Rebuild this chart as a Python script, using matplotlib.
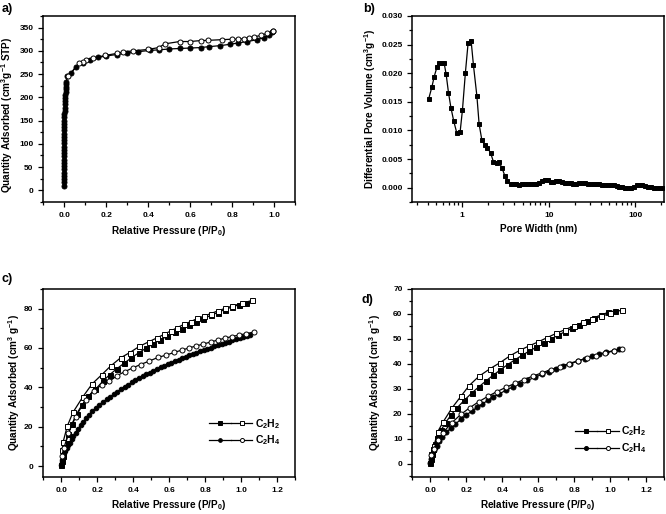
import numpy as np
import matplotlib
matplotlib.use("Agg")
from matplotlib import pyplot as plt
from matplotlib.ticker import MultipleLocator, FormatStrFormatter, LogLocator, NullFormatter
from matplotlib.legend_handler import HandlerTuple

plt.rcParams['font.family'] = ['Liberation Sans', 'DejaVu Sans']
plt.rcParams['font.weight'] = 'bold'
plt.rcParams['axes.labelweight'] = 'bold'
plt.rcParams['mathtext.fontset'] = 'custom'
plt.rcParams['mathtext.rm'] = 'Liberation Sans:bold'
plt.rcParams['mathtext.it'] = 'Liberation Sans:bold'
plt.rcParams['mathtext.bf'] = 'Liberation Sans:bold'

# ---- a) N2 isotherm ----
a_ads_p = [0.0, 0.0, 0.0, 0.0, 0.0, 0.0, 0.0, 0.0, 0.0, 0.0,
           0.0, 0.0, 0.0, 0.0, 0.0, 0.0, 0.0, 0.0, 0.0, 0.0,
           0.0005, 0.001, 0.001, 0.0015, 0.002, 0.0025, 0.003, 0.004, 0.005, 0.006,
           0.007, 0.008, 0.009, 0.010,
           0.013, 0.032, 0.056, 0.091, 0.123, 0.163, 0.2, 0.25, 0.3, 0.35,
           0.41, 0.45, 0.5, 0.55, 0.6, 0.65, 0.69, 0.74, 0.79, 0.83,
           0.873, 0.92, 0.95, 0.975, 0.99, 0.997]
a_ads_q = [10, 17, 24, 31, 38, 45, 52, 59, 66, 73,
           80, 87, 94, 101, 108, 115, 122, 129, 136, 143,
           150, 157, 164, 171, 178, 185, 192, 199, 206, 212,
           218, 223, 228, 232,
           246, 252, 266, 274, 281, 286, 289, 292, 295, 298,
           301, 302, 304, 305, 306, 307, 309, 311, 314, 317,
           320, 324, 328, 334, 340, 343]
a_des_p = [0.997, 0.968, 0.936, 0.905, 0.88, 0.855, 0.83, 0.8, 0.753, 0.684,
           0.65, 0.6, 0.55, 0.48, 0.45, 0.40, 0.33, 0.28, 0.25, 0.195,
           0.139, 0.104, 0.088, 0.072, 0.02]
a_des_q = [343, 338, 333, 330, 328, 326, 325, 325, 324, 322.5,
           322, 320, 320, 315, 307, 303, 300, 297.5, 294.5, 290,
           284.6, 281, 277, 274, 246]

# ---- b) pore size distribution ----
b_width = [0.41, 0.447, 0.475, 0.51, 0.547, 0.588, 0.62, 0.653, 0.695, 0.741,
           0.80, 0.869, 0.948, 1.008, 1.09, 1.17, 1.27, 1.35, 1.48, 1.57,
           1.69, 1.83, 1.96, 2.14, 2.30, 2.51, 2.69, 2.89, 3.11, 3.33, 3.65,
           3.9, 4.2, 4.5, 4.9, 5.3, 5.7, 6.2, 6.7, 7.2, 7.8,
           8.4, 9.0, 9.7, 10.5, 11.3, 12.2, 13.2, 14.2, 15.4, 16.6,
           17.9, 19.3, 20.9, 22.5, 24.3, 26.2, 28.3, 30.6, 33.0, 35.6,
           38.4, 41.5, 44.8, 48.3, 52.2, 56.3, 60.8, 65.6, 70.8, 76.4,
           82.5, 89.0, 96.1, 103.7, 112, 121, 130, 141, 152, 164,
           177, 191, 206]
b_vol = [0.0155, 0.0176, 0.0194, 0.0210, 0.0217, 0.0217, 0.0217, 0.0198, 0.0166, 0.0140,
         0.0116, 0.0095, 0.0098, 0.0136, 0.0201, 0.0252, 0.0256, 0.0214, 0.0160, 0.0111,
         0.0083, 0.0074, 0.0070, 0.0060, 0.0045, 0.0043, 0.0044, 0.0034, 0.0021, 0.0012, 0.0006,
         0.0006, 0.0006, 0.00055, 0.0006, 0.00065, 0.0007, 0.0007, 0.00065, 0.00065, 0.0008,
         0.0011, 0.0014, 0.0013, 0.0010, 0.0010, 0.0011, 0.0011, 0.0010, 0.0009, 0.0008,
         0.0008, 0.0007, 0.0007, 0.0008, 0.0009, 0.0009, 0.0007, 0.0006, 0.0006, 0.0006,
         0.0006, 0.0005, 0.0005, 0.0005, 0.0004, 0.0004, 0.0003, 0.0002, 0.0001, 0.0,
         -0.00005, 0.0, 0.0002, 0.0004, 0.0005, 0.0004, 0.0003, 0.0002, 0.0001, 0.0,
         -0.00005, -0.00005, -0.00005]

# ---- c) C2H2 / C2H4 isotherms, sample 1 ----
c_c2h2_ads_p = [0.0, 0.003, 0.008, 0.015, 0.025, 0.04, 0.06, 0.085, 0.115, 0.15,
                0.19, 0.23, 0.27, 0.31, 0.35, 0.39, 0.43, 0.47, 0.51, 0.55,
                0.59, 0.63, 0.67, 0.71, 0.75, 0.79, 0.83, 0.87, 0.91, 0.95,
                0.99, 1.03]
c_c2h2_ads_q = [0.5, 2.5, 5, 8.5, 12, 16.5, 21.5, 26.5, 31, 35.5,
                39, 43, 46.5, 49.5, 52.3, 55, 57.5, 59.8, 62, 64,
                66, 68, 69.8, 71.5, 73.2, 74.8, 76.5, 78, 79.5, 80.8,
                82, 83]
c_c2h2_des_p = [0.005, 0.01, 0.033, 0.065, 0.12, 0.172, 0.226, 0.274, 0.33, 0.38,
                0.434, 0.488, 0.534, 0.571, 0.608, 0.645, 0.682, 0.72, 0.757, 0.794,
                0.83, 0.87, 0.911, 0.951, 1.007, 1.063]
c_c2h2_des_q = [8, 12.2, 20.2, 27.3, 35.2, 41.8, 46.5, 50.8, 55.0, 57.6,
                60.8, 63.2, 65.2, 66.9, 68.6, 70.3, 72.0, 73.4, 75.0, 76.2,
                77.4, 78.8, 80.1, 81.3, 82.7, 84.2]
c_c2h4_ads_p = [0.0, 0.002, 0.005, 0.008, 0.012, 0.017, 0.023, 0.03, 0.038, 0.047,
                0.057, 0.068, 0.08, 0.093, 0.107, 0.122, 0.138, 0.155, 0.173, 0.192,
                0.212, 0.232, 0.252, 0.272, 0.292, 0.312, 0.332, 0.352, 0.372, 0.392,
                0.412, 0.432, 0.452, 0.472, 0.492, 0.512, 0.532, 0.552, 0.572, 0.592,
                0.612, 0.632, 0.652, 0.672, 0.692, 0.712, 0.732, 0.752, 0.772, 0.792,
                0.812, 0.832, 0.852, 0.872, 0.892, 0.912, 0.932, 0.952, 0.972, 0.992,
                1.012, 1.032, 1.052]
c_c2h4_ads_q = [0.5, 2, 3.2, 4.3, 5.4, 6.6, 7.9, 9.2, 10.5, 12,
                13.6, 15.3, 17, 18.8, 20.7, 22.5, 24.3, 26.2, 27.9, 29.6,
                31.2, 32.6, 33.9, 35.2, 36.5, 37.8, 39.1, 40.3, 41.4, 42.5,
                43.6, 44.6, 45.6, 46.6, 47.5, 48.4, 49.3, 50.2, 51.0, 51.8,
                52.6, 53.4, 54.1, 54.8, 55.5, 56.2, 56.9, 57.6, 58.3, 58.9,
                59.6, 60.2, 60.8, 61.4, 62.0, 62.6, 63.2, 63.8, 64.4, 65.0,
                65.6, 66.2, 66.8]
c_c2h4_des_p = [0.005, 0.015, 0.04, 0.08, 0.135, 0.18, 0.228, 0.268, 0.311, 0.352,
                0.398, 0.441, 0.488, 0.538, 0.584, 0.627, 0.67, 0.71, 0.75, 0.79,
                0.83, 0.87, 0.91, 0.95, 0.99, 1.03, 1.072]
c_c2h4_des_q = [5, 9.2, 17, 25, 33.8, 38.4, 41.4, 43.1, 46, 47.9,
                49.9, 51.6, 53.3, 55.2, 56.4, 57.7, 58.9, 60, 61, 62,
                63, 64, 65, 65.8, 66.6, 67.3, 68.1]

# ---- d) C2H2 / C2H4 isotherms, sample 2 ----
d_c2h2_ads_p = [0.0, 0.003, 0.008, 0.015, 0.025, 0.04, 0.06, 0.085, 0.115, 0.15,
                0.19, 0.23, 0.27, 0.31, 0.35, 0.39, 0.43, 0.47, 0.51, 0.55,
                0.59, 0.63, 0.67, 0.71, 0.75, 0.79, 0.83, 0.87, 0.91, 0.95,
                0.99, 1.03]
d_c2h2_ads_q = [0.3, 2, 4, 6, 8, 10.5, 13.5, 16.5, 19.5, 22.5,
                25.5, 28.3, 30.8, 33.2, 35.5, 37.6, 39.7, 41.6, 43.4, 45.1,
                46.7, 48.3, 49.9, 51.4, 52.9, 54.3, 55.7, 57.1, 58.4, 59.6,
                60.6, 61.3]
d_c2h2_des_p = [0.004, 0.02, 0.041, 0.07, 0.12, 0.17, 0.216, 0.27, 0.333, 0.388,
                0.445, 0.5, 0.55, 0.6, 0.65, 0.7, 0.75, 0.8, 0.85, 0.9,
                0.95, 1.0, 1.069]
d_c2h2_des_q = [3.9, 7, 12.8, 16.6, 22.3, 27, 31.3, 35, 38.1, 40.5,
                43.3, 45.5, 47.2, 48.8, 50.5, 52.2, 53.7, 55.2, 56.6, 57.9,
                59, 60.2, 61.6]
d_c2h4_ads_p = [0.0, 0.005, 0.012, 0.022, 0.035, 0.05, 0.068, 0.09, 0.115, 0.14,
                0.17, 0.2, 0.23, 0.26, 0.29, 0.32, 0.35, 0.38, 0.42, 0.46,
                0.5, 0.54, 0.58, 0.62, 0.66, 0.7, 0.74, 0.78, 0.82, 0.86,
                0.9, 0.94, 0.98, 1.02, 1.05]
d_c2h4_ads_q = [0.3, 2.0, 3.8, 5.5, 7.3, 9.0, 10.8, 12.6, 14.4, 16.0,
                17.8, 19.5, 21.1, 22.6, 24.0, 25.4, 26.7, 27.9, 29.4, 30.8,
                32.1, 33.4, 34.6, 35.8, 36.9, 38.0, 39.1, 40.1, 41.1, 42.1,
                43.0, 43.9, 44.7, 45.3, 45.8]
d_c2h4_des_p = [0.004, 0.02, 0.045, 0.07, 0.12, 0.17, 0.22, 0.27, 0.32, 0.37,
                0.42, 0.47, 0.52, 0.57, 0.62, 0.67, 0.72, 0.77, 0.82, 0.87,
                0.92, 0.97, 1.02, 1.069]
d_c2h4_des_q = [3.5, 6, 9.5, 12.5, 16.5, 19.8, 22.5, 24.9, 27, 28.9,
                30.6, 32.2, 33.7, 35.1, 36.4, 37.7, 38.9, 40.1, 41.2, 42.3,
                43.3, 44.3, 45.2, 46]

TICK_FS = 6
LABEL_FS = 7.2
MS = 3.6


def style_axes(ax):
    for s in ax.spines.values():
        s.set_linewidth(1.1)
    ax.tick_params(which='both', direction='out', top=False, right=False,
                   labelsize=TICK_FS, width=0.9)
    ax.tick_params(which='major', length=3.5)
    ax.tick_params(which='minor', length=2)
    for lab in ax.get_xticklabels() + ax.get_yticklabels():
        lab.set_fontweight('bold')


def draw(ax, p, q, marker, filled, ms=MS, ls='-'):
    fc = 'black' if filled else 'white'
    return ax.plot(p, q, ls, color='black', lw=0.9, marker=marker, ms=ms,
                   mfc=fc, mec='black', mew=0.7)[0]


fig = plt.figure(figsize=(6.66, 5.14), dpi=100)
ax_a = fig.add_axes([0.065, 0.607, 0.378, 0.362])
ax_b = fig.add_axes([0.619, 0.607, 0.378, 0.362])
ax_c = fig.add_axes([0.065, 0.072, 0.378, 0.366])
ax_d = fig.add_axes([0.619, 0.072, 0.378, 0.366])

# a
draw(ax_a, a_ads_p, a_ads_q, 'o', True)
draw(ax_a, a_des_p, a_des_q, 'o', False)
ax_a.set_xlim(-0.1, 1.1)
ax_a.set_ylim(-25, 375)
ax_a.xaxis.set_major_locator(MultipleLocator(0.2))
ax_a.xaxis.set_minor_locator(MultipleLocator(0.1))
ax_a.yaxis.set_major_locator(MultipleLocator(50))
ax_a.yaxis.set_minor_locator(MultipleLocator(25))
ax_a.xaxis.set_major_formatter(FormatStrFormatter('%.1f'))
ax_a.set_xlabel(r'Relative Pressure (P/P$_0$)', fontsize=LABEL_FS)
ax_a.set_ylabel(r'Quantity Adsorbed (cm$^3$g$^{-1}$ STP)', fontsize=LABEL_FS)
ax_a.yaxis.set_label_coords(-0.111, 0.47)
ax_a.xaxis.set_label_coords(0.5, -0.118)
style_axes(ax_a)

# b
draw(ax_b, b_width, b_vol, 's', True, ms=3.4)
ax_b.set_xscale('log')
ax_b.set_xlim(0.265, 215)
ax_b.set_ylim(-0.0025, 0.030)
ax_b.xaxis.set_major_locator(LogLocator(base=10))
ax_b.xaxis.set_minor_locator(LogLocator(base=10, subs=np.arange(2, 10)))
ax_b.xaxis.set_minor_formatter(NullFormatter())
ax_b.xaxis.set_major_formatter(FormatStrFormatter('%g'))
ax_b.yaxis.set_major_locator(MultipleLocator(0.005))
ax_b.yaxis.set_minor_locator(MultipleLocator(0.0025))
ax_b.yaxis.set_major_formatter(FormatStrFormatter('%.3f'))
ax_b.set_xlabel('Pore Width (nm)', fontsize=LABEL_FS)
ax_b.set_ylabel(r'Differential Pore Volume (cm$^3$g$^{-1}$)', fontsize=LABEL_FS)
ax_b.yaxis.set_label_coords(-0.137, 0.5)
ax_b.xaxis.set_label_coords(0.5, -0.118)
style_axes(ax_b)

# c and d
for ax, sets, ylim, ymaj, ymin, ylab_x in [
        (ax_c, (c_c2h2_ads_p, c_c2h2_ads_q, c_c2h2_des_p, c_c2h2_des_q,
                c_c2h4_ads_p, c_c2h4_ads_q, c_c2h4_des_p, c_c2h4_des_q),
         (-5.5, 90), 20, 10, -0.085),
        (ax_d, (d_c2h2_ads_p, d_c2h2_ads_q, d_c2h2_des_p, d_c2h2_des_q,
                d_c2h4_ads_p, d_c2h4_ads_q, d_c2h4_des_p, d_c2h4_des_q),
         (-5.2, 70), 10, 5, -0.116)]:
    h1 = draw(ax, sets[0], sets[1], 's', True)
    h2 = draw(ax, sets[2], sets[3], 's', False)
    h3 = draw(ax, sets[4], sets[5], 'o', True, ms=3.3 if ax is ax_c else MS)
    h4 = draw(ax, sets[6], sets[7], 'o', False)
    ax.set_xlim(-0.1, 1.3)
    ax.set_ylim(*ylim)
    ax.xaxis.set_major_locator(MultipleLocator(0.2))
    ax.xaxis.set_minor_locator(MultipleLocator(0.1))
    ax.yaxis.set_major_locator(MultipleLocator(ymaj))
    ax.yaxis.set_minor_locator(MultipleLocator(ymin))
    ax.xaxis.set_major_formatter(FormatStrFormatter('%.1f'))
    ax.set_xlabel(r'Relative Pressure (P/P$_0$)', fontsize=LABEL_FS)
    ax.set_ylabel(r'Quantity Adsorbed (cm$^3$ g$^{-1}$)', fontsize=LABEL_FS)
    ax.yaxis.set_label_coords(ylab_x, 0.5)
    ax.xaxis.set_label_coords(0.5, -0.11)
    leg_pos = (0.62, 0.37) if ax is ax_c else (0.61, 0.33)
    ax.legend([(h1, h2), (h3, h4)], [r'C$_2$H$_2$', r'C$_2$H$_4$'],
              handler_map={tuple: HandlerTuple(ndivide=None, pad=0.0)},
              loc='upper left', bbox_to_anchor=leg_pos, frameon=False,
              fontsize=7.5, handlelength=4.2, handletextpad=0.2,
              labelspacing=0.3, markerscale=0.8)
    style_axes(ax)

fig.text(0.003, 0.995, 'a)', fontsize=9, fontweight='bold', va='top')
fig.text(0.545, 0.995, 'b)', fontsize=9, fontweight='bold', va='top')
fig.text(0.003, 0.468, 'c)', fontsize=9, fontweight='bold', va='top')
fig.text(0.543, 0.428, 'd)', fontsize=9, fontweight='bold', va='top')

fig.savefig('out.png', dpi=100)
